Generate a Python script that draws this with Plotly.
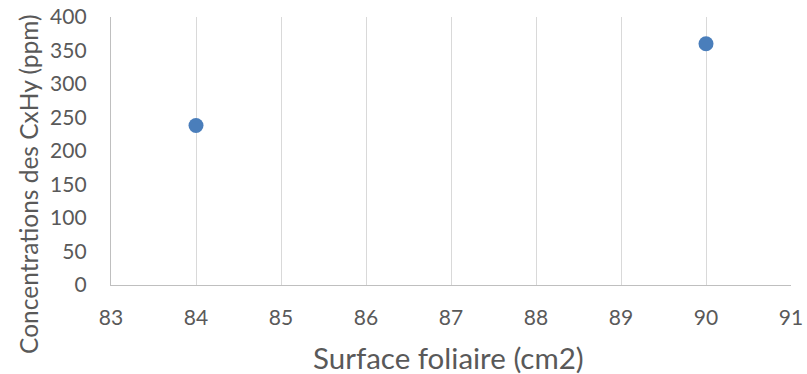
import plotly.graph_objects as go

# Leaf area (cm2) vs hydrocarbon concentration (ppm)
surface_foliaire = [84, 90]
concentration_cxhy = [238, 360]

x_ticks = [83, 84, 85, 86, 87, 88, 89, 90, 91]
y_ticks = [0, 50, 100, 150, 200, 250, 300, 350, 400]

FONT = "Lato"
TEXT_COLOR = "#595959"

fig = go.Figure(
    go.Scatter(
        x=surface_foliaire,
        y=concentration_cxhy,
        mode="markers",
        marker=dict(size=15, color="#4a7ebb"),
        showlegend=False,
    )
)

fig.update_layout(
    width=807,
    height=374,
    margin=dict(l=111, r=16, t=17, b=89, autoexpand=False),
    paper_bgcolor="white",
    plot_bgcolor="white",
    font=dict(family=FONT, color=TEXT_COLOR),
)

fig.update_xaxes(
    range=[83, 91],
    tickvals=x_ticks,
    ticktext=[str(v) for v in x_ticks],
    automargin=False,
    showgrid=True,
    gridcolor="#d9d9d9",
    gridwidth=1.3,
    showline=True,
    linecolor="#bfbfbf",
    linewidth=1.3,
    zeroline=False,
    ticks="",
    ticklabelstandoff=14,
    tickfont=dict(size=21, color=TEXT_COLOR, family=FONT),
)

fig.update_yaxes(
    range=[0, 400],
    tickvals=y_ticks,
    ticktext=[str(v) for v in y_ticks],
    automargin=False,
    showgrid=False,
    showline=True,
    linecolor="#bfbfbf",
    linewidth=1.3,
    zeroline=False,
    ticks="",
    ticklabelstandoff=19,
    tickfont=dict(size=21, color=TEXT_COLOR, family=FONT),
)

# axis titles placed as annotations (paper coords relative to the plot area)
fig.add_annotation(
    text="Surface foliaire (cm2)",
    xref="paper", yref="paper",
    x=0.497, y=-0.272,
    xanchor="center", yanchor="middle",
    showarrow=False,
    font=dict(size=29.5, color=TEXT_COLOR, family=FONT),
)
fig.add_annotation(
    text="Concentrations des CxHy (ppm)",
    xref="paper", yref="paper",
    x=-0.1206, y=0.377,
    xanchor="center", yanchor="middle",
    textangle=-90,
    showarrow=False,
    font=dict(size=24.5, color=TEXT_COLOR, family=FONT),
)

# cut-off bold text fragment at the bottom-left edge
fig.add_annotation(
    text="<b>r</b>",
    xref="paper", yref="paper",
    x=-0.162, y=-0.325,
    xanchor="left", yanchor="top",
    showarrow=False,
    font=dict(size=18, color="black", family="Liberation Sans"),
)

fig.write_html("out.html")
